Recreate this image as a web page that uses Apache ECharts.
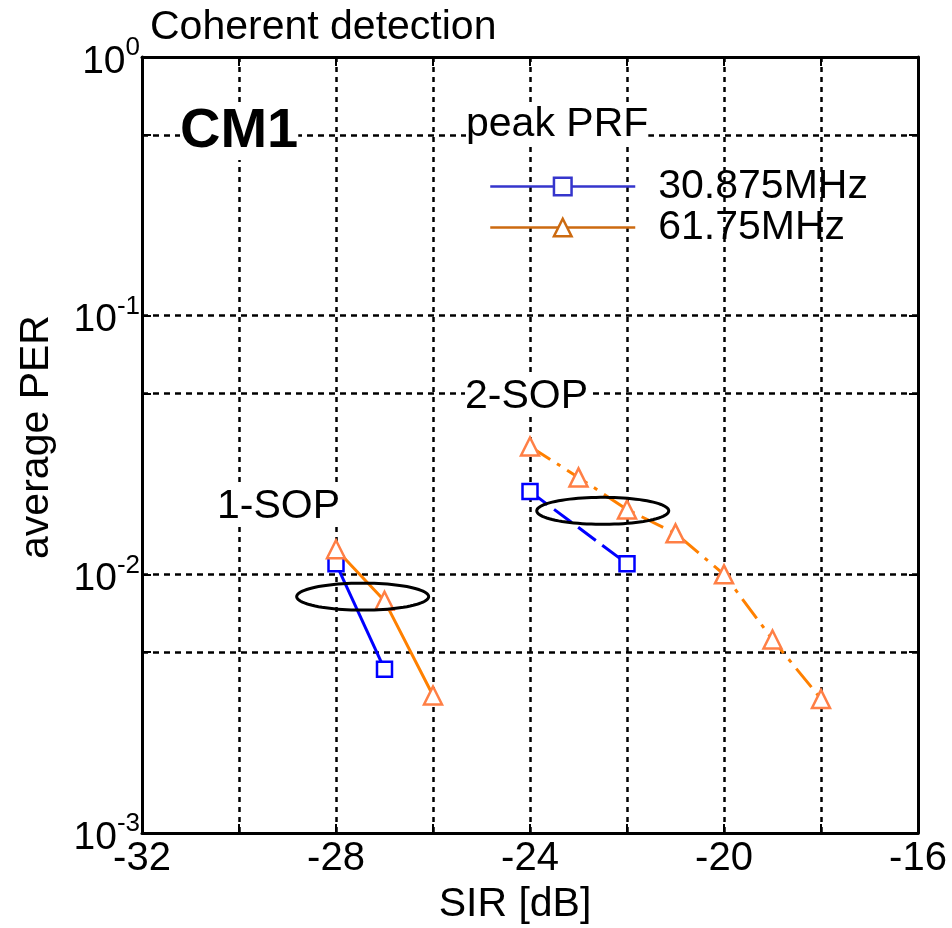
<!DOCTYPE html>
<html>
<head>
<meta charset="utf-8">
<script src="https://cdn.jsdelivr.net/npm/echarts@6/dist/echarts.min.js"></script>
<style>html,body{margin:0;padding:0;background:#fff;}#c{width:952px;height:928px;}</style>
</head>
<body>
<div id="c"></div>
<script>
// ---- data ----
const blue1X = [-28, -27];
const blue1Y = [0.0110, 0.0043];
const orange1X = [-28, -27, -26];
const orange1Y = [0.0125, 0.0079, 0.0034];
const blue2X = [-24, -22];
const blue2Y = [0.0209, 0.0110];
const orange2X = [-24, -23, -22, -21, -20, -19, -18];
const orange2Y = [0.0312, 0.0237, 0.0178, 0.0144, 0.0100, 0.0056, 0.0033];
const seriesNames = ['30.875MHz', '61.75MHz'];
const xTicks = [-32, -30, -28, -26, -24, -22, -20, -18, -16];
const xLabelTicks = [-32, -28, -24, -20, -16];
const yGridTicks = [0.001, 0.005, 0.01, 0.05, 0.1, 0.5, 1];
const yLabelTicks = [0.001, 0.01, 0.1, 1];
// annotation ellipse centres (data coordinates)
const ellipseX = [-27.45, -22.5];
const ellipseY = [0.0082, 0.0176];

const FONT = 'Liberation Sans, Arial, sans-serif';
const pair = (xs, ys) => xs.map((x, i) => [x, ys[i]]);

const chart = echarts.init(document.getElementById('c'), null, {renderer: 'canvas'});

const blueItem = {color: '#fff', borderColor: '#0000FF', borderWidth: 2.5};
const orangeItem = {color: '#fff', borderColor: '#FF7F45', borderWidth: 2.5};

const option = {
  backgroundColor: '#fff',
  animation: false,
  textStyle: {fontFamily: FONT},
  grid: {left: 142, right: 34, top: 57, bottom: 95, containLabel: false, outerBoundsMode: 'none'},
  title: {
    text: 'Coherent detection', left: 145, top: 2,
    textStyle: {fontFamily: FONT, fontSize: 41, fontWeight: 'normal', color: '#000'}
  },
  legend: {
    orient: 'vertical', left: 484, top: 161,
    itemWidth: 145, itemHeight: 22, itemGap: 0,
    textStyle: {fontFamily: FONT, fontSize: 41, color: '#000', lineHeight: 41, padding: [0, 0, 0, 18]},
    data: [
      {name: seriesNames[0],
       itemStyle: {color: '#fff', borderColor: '#3535CC', borderWidth: 2.5},
       lineStyle: {color: '#3535CC', width: 2.5, type: 'solid'}},
      {name: seriesNames[1],
       itemStyle: {color: '#fff', borderColor: '#CC6A10', borderWidth: 2.5},
       lineStyle: {color: '#CC6A10', width: 2.5, type: 'solid'}}
    ]
  },
  graphic: [
    {type: 'text', left: 180, top: 104, z: 20,
     style: {text: 'CM1', font: 'bold 56px ' + FONT, fill: '#000', backgroundColor: '#fff'}},
    {type: 'text', left: 466, top: 104, z: 20,
     style: {text: 'peak PRF', font: '41px ' + FONT, fill: '#000', backgroundColor: '#fff'}},
    {type: 'text', left: 217, top: 486, z: 20,
     style: {text: '1-SOP', font: '41px ' + FONT, fill: '#000', backgroundColor: '#fff'}},
    {type: 'text', left: 465, top: 376, z: 20,
     style: {text: '2-SOP', font: '41px ' + FONT, fill: '#000', backgroundColor: '#fff'}}
  ],
  xAxis: [{
    type: 'value', min: -32, max: -16, interval: 2,
    name: 'SIR [dB]', nameLocation: 'middle', nameGap: 50,
    nameTextStyle: {fontFamily: FONT, fontSize: 41, color: '#000', padding: [0, 30, 0, 0]},
    axisLine: {show: true, onZero: false, lineStyle: {color: '#000', width: 3}},
    axisTick: {show: true, inside: true, length: 9, lineStyle: {color: '#000', width: 2}},
    axisLabel: {
      margin: 6, fontFamily: FONT, fontSize: 40, color: '#000',
      formatter: v => xLabelTicks.indexOf(v) >= 0 ? String(v) : ''
    },
    splitLine: {show: true, lineStyle: {color: '#000', width: 2.5, type: [5, 5]}}
  }, {
    type: 'value', min: -32, max: -16, interval: 2, position: 'top',
    axisLine: {show: true, onZero: false, lineStyle: {color: '#000', width: 3}},
    axisTick: {show: true, inside: true, length: 9, lineStyle: {color: '#000', width: 2}},
    axisLabel: {show: false}, splitLine: {show: false}
  }],
  yAxis: [{
    type: 'log', logBase: 10, min: 0.001, max: 1,
    name: 'average PER', nameLocation: 'middle', nameGap: 85, nameRotate: 90,
    nameTextStyle: {fontFamily: FONT, fontSize: 41, color: '#000', padding: [0, 0, 0, 16]},
    axisLine: {show: true, onZero: false, lineStyle: {color: '#000', width: 3}},
    axisTick: {show: true, inside: true, length: 9, customValues: yGridTicks, lineStyle: {color: '#000', width: 2}},
    axisLabel: {
      margin: 2, customValues: yLabelTicks,
      formatter: v => '{b|10}{s|' + Math.round(Math.log10(v)) + '}',
      rich: {
        b: {fontFamily: FONT, fontSize: 39, color: '#000', lineHeight: 44, padding: [10, 0, 0, 0]},
        s: {fontFamily: FONT, fontSize: 26, color: '#000', verticalAlign: 'top', lineHeight: 26}
      }
    },
    splitLine: {show: true, lineStyle: {color: '#000', width: 2.5, type: [6, 5]}}
  }, {
    type: 'log', logBase: 10, min: 0.001, max: 1, position: 'right',
    axisLine: {show: true, onZero: false, lineStyle: {color: '#000', width: 3}},
    axisTick: {show: true, inside: true, length: 9, customValues: yGridTicks, lineStyle: {color: '#000', width: 2}},
    axisLabel: {show: false}, splitLine: {show: false}
  }],
  series: [
    {name: seriesNames[0], type: 'line', data: pair(blue1X, blue1Y),
     symbol: 'rect', symbolSize: 15, itemStyle: blueItem,
     lineStyle: {color: '#0000FF', width: 3, type: 'solid'}, z: 3},
    {name: seriesNames[0], type: 'line', data: pair(blue2X, blue2Y),
     symbol: 'rect', symbolSize: 15, itemStyle: blueItem,
     lineStyle: {color: '#0000FF', width: 3, type: [22, 8]}, z: 3},
    {name: seriesNames[1], type: 'line', data: pair(orange1X, orange1Y),
     symbol: 'triangle', symbolSize: 18, itemStyle: orangeItem,
     lineStyle: {color: '#FF8000', width: 3, type: 'solid'}, z: 4},
    {name: seriesNames[1], type: 'line', data: pair(orange2X, orange2Y),
     symbol: 'triangle', symbolSize: 18, itemStyle: orangeItem,
     lineStyle: {color: '#FF8000', width: 3, type: [24, 8, 4, 8]}, z: 4},
    {type: 'custom', coordinateSystem: 'cartesian2d', silent: true, z: 6,
     data: pair(ellipseX, ellipseY),
     renderItem: function (params, api) {
       const c = api.coord([api.value(0), api.value(1)]);
       const pts = [];
       for (let k = 0; k <= 90; k++) {
         const a = k / 90 * Math.PI * 2;
         pts.push([c[0] + 66 * Math.cos(a), c[1] + 13.5 * Math.sin(a)]);
       }
       return {type: 'polygon', shape: {points: pts}, style: {fill: null, stroke: '#000', lineWidth: 3}};
     }}
  ]
};
chart.setOption(option);
</script>
</body>
</html>
